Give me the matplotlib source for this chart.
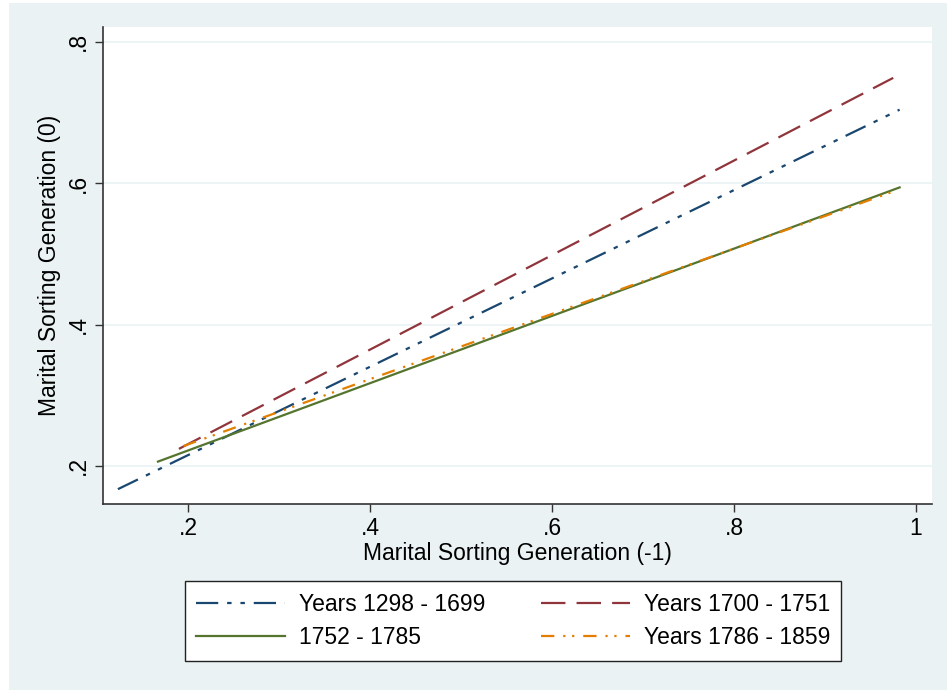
import matplotlib.pyplot as plt
from matplotlib.patches import Rectangle

plt.rcParams['font.family'] = ['Liberation Sans', 'DejaVu Sans']

# fitted lines: endpoints of each period's prediction
x_1298 = [0.123, 0.982]
y_1298 = [0.167, 0.704]
x_1700 = [0.190, 0.975]
y_1700 = [0.224, 0.749]
x_1752 = [0.167, 0.982]
y_1752 = [0.206, 0.594]
x_1786 = [0.195, 0.979]
y_1786 = [0.228, 0.590]

labels = ["Years 1298 - 1699", "Years 1700 - 1751", "1752 - 1785", "Years 1786 - 1859"]
xticks = [0.2, 0.4, 0.6, 0.8, 1.0]
xticklabels = [".2", ".4", ".6", ".8", "1"]
yticks = [0.2, 0.4, 0.6, 0.8]
yticklabels = [".2", ".4", ".6", ".8"]

bg = "#EAF2F3"
fs = 16.5
fig = plt.figure(figsize=(9.47, 6.90), dpi=100, facecolor="white")
fig.patches.append(Rectangle((9 / 947, 0), 1, 1 - 3 / 690, transform=fig.transFigure,
                             facecolor=bg, edgecolor="none", zorder=-10))

ax = fig.add_axes([103 / 947, 1 - 504 / 690, 829 / 947, 477 / 690])
ax.set_facecolor("white")

l1, = ax.plot(x_1298, y_1298, color="#1a476f", lw=1.6, dashes=(10, 4, 2, 4, 2, 4))
l2, = ax.plot(x_1700, y_1700, color="#90353b", lw=1.6, dashes=(11, 5))
l3, = ax.plot(x_1752, y_1752, color="#55752f", lw=1.6)
l4, = ax.plot(x_1786, y_1786, color="#e37e00", lw=1.6, dashes=(6, 4, 1, 3, 1, 4))

ax.set_xlim(0.1066, 1.0176)
ax.set_ylim(0.146, 0.821)
ax.set_xticks(xticks)
ax.set_xticklabels(xticklabels)
ax.set_yticks(yticks)
ax.set_yticklabels(yticklabels, rotation=90, va="center")
ax.tick_params(labelsize=fs, length=6, width=1, color="#333333")
ax.grid(axis="y", color=bg, lw=1.2)
ax.set_axisbelow(True)

for side in ["top", "right"]:
    ax.spines[side].set_visible(False)
for side in ["left", "bottom"]:
    ax.spines[side].set_color("#333333")
    ax.spines[side].set_linewidth(1.2)

ax.set_xlabel("Marital Sorting Generation (-1)", fontsize=fs, labelpad=1)
ax.set_ylabel("Marital Sorting Generation (0)", fontsize=fs, labelpad=4)

# legend is filled column-first, so order handles to read row by row
handles = [l1, l3, l2, l4]
order = [0, 2, 1, 3]
leg = fig.legend(handles, [labels[i] for i in order], ncol=2, loc="center",
                 bbox_to_anchor=(513 / 947, 1 - 621 / 690),
                 fontsize=fs, frameon=True, fancybox=False, edgecolor="#222222",
                 facecolor="white", framealpha=1,
                 handlelength=3.9, handletextpad=0.6, columnspacing=2.4,
                 borderpad=0.5, labelspacing=0.45)
leg.get_frame().set_linewidth(1.0)

fig.savefig("out.png", dpi=100, facecolor=fig.get_facecolor())
